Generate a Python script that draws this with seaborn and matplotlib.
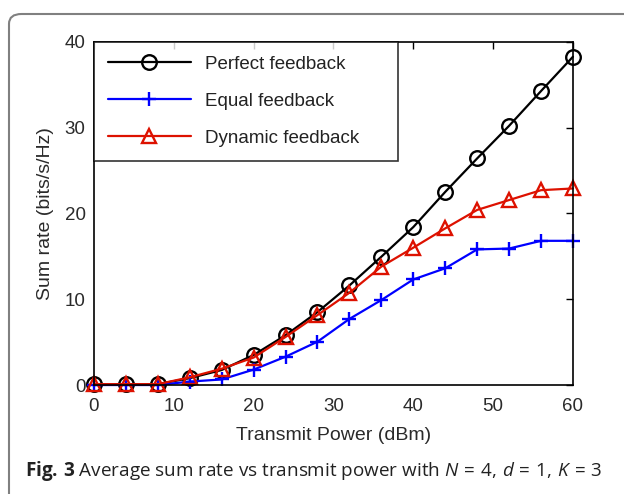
"""
Sum rate vs transmit power for three feedback schemes (Fig. 3).
"""

import matplotlib

matplotlib.use("Agg")
import matplotlib.pyplot as plt
import numpy as np
import pandas as pd
import seaborn as sns
from matplotlib.patches import FancyBboxPatch

# Data
power_dbm = [0, 4, 8, 12, 16, 20, 24, 28, 32, 36, 40, 44, 48, 52, 56, 60]
perfect = [0.1, 0.1, 0.1, 0.8, 1.75, 3.5, 5.8, 8.5, 11.6, 14.95, 18.4, 22.5, 26.4, 30.2, 34.25, 38.25]
equal = [0.0, 0.0, 0.0, 0.4, 0.65, 1.8, 3.3, 5.05, 7.7, 9.9, 12.3, 13.6, 15.8, 15.9, 16.8, 16.8]
dynamic = [0.1, 0.1, 0.1, 0.9, 1.9, 3.2, 5.6, 8.15, 10.75, 13.8, 16.0, 18.25, 20.4, 21.55, 22.7, 22.9]

series_names = ["Perfect feedback", "Equal feedback", "Dynamic feedback"]
series_values = [perfect, equal, dynamic]
x_ticks = [0, 10, 20, 30, 40, 50, 60]
y_ticks = [0, 10, 20, 30, 40]
x_label = "Transmit Power (dBm)"
y_label = "Sum rate (bits/s/Hz)"
caption = (r"$\mathbf{Fig.\,3}$ Average sum rate vs transmit power with "
           r"$N\,=\,4,\,d\,=\,1,\,K\,=\,3$")

colors = ["black", "#0000ff", "#dd1100"]
markers = ["o", "+", "^"]

df = pd.DataFrame(
    {
        "power": np.tile(power_dbm, len(series_names)),
        "rate": np.concatenate(series_values),
        "scheme": np.repeat(series_names, len(power_dbm)),
    }
)

sns.set_theme(style="white")
plt.rcParams["font.family"] = ["Liberation Sans", "DejaVu Sans"]
plt.rcParams["mathtext.fontset"] = "custom"
plt.rcParams["mathtext.rm"] = "Open Sans"
plt.rcParams["mathtext.it"] = "Open Sans:italic"
plt.rcParams["mathtext.bf"] = "Open Sans:bold"

fig = plt.figure(figsize=(6.24, 4.94), dpi=100)
ax = fig.add_axes([0.1506, 0.2206, 0.7676, 0.695])

for name, color, marker in zip(series_names, colors, markers):
    sns.lineplot(
        data=df[df["scheme"] == name],
        x="power",
        y="rate",
        color=color,
        marker=marker,
        markersize=10.5,
        markerfacecolor="none",
        markeredgecolor=color,
        markeredgewidth=1.7,
        linewidth=1.6,
        label=name,
        ax=ax,
        clip_on=False,
    )

ax.set_xlim(0, 60)
ax.set_ylim(0, 40)
ax.set_xticks(x_ticks)
ax.set_yticks(y_ticks)
ax.tick_params(axis="both", direction="in", top=True, right=True, length=5,
               width=1, labelsize=13.5, labelcolor="#2a2a2a", color="black")
ax.tick_params(axis="x", pad=9)
ax.tick_params(axis="y", pad=6)
for spine in ax.spines.values():
    spine.set_color("black")
    spine.set_linewidth(1.2)
ax.set_xlabel(x_label, fontsize=14, color="#2a2a2a", labelpad=9)
ax.set_ylabel(y_label, fontsize=14, color="#2a2a2a", labelpad=8)

leg = ax.legend(
    loc="upper left",
    bbox_to_anchor=(0, 0, 305 / 480, 1),
    mode="expand",
    borderaxespad=0,
    handlelength=4.4,
    fontsize=13.5,
    frameon=True,
    fancybox=False,
    edgecolor="black",
    borderpad=0.75,
    labelspacing=1.05,
    handletextpad=0.75,
)
leg.get_frame().set_linewidth(1.2)
for text in leg.get_texts():
    text.set_color("#222222")

# outer caption frame, opening to the right and bottom
frame = FancyBboxPatch(
    (9 / 624, -0.2), 1.2, 1.2 - 14 / 494,
    boxstyle="round,pad=0,rounding_size=0.02",
    transform=fig.transFigure, facecolor="none",
    edgecolor="#808080", linewidth=1.5,
)
fig.patches.append(frame)

fig.text(25 / 624, 18 / 494, caption, fontsize=13.6, family="Open Sans",
         color="#222222", ha="left", va="baseline")

fig.savefig("out.png", dpi=100)
plt.close(fig)
